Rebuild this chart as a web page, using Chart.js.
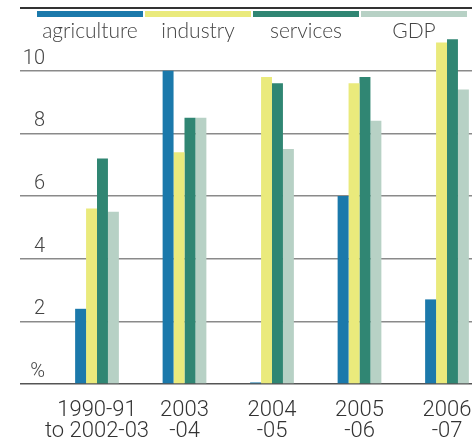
<!DOCTYPE html>
<html>
<head>
<meta charset="utf-8">
<script src="https://cdn.jsdelivr.net/npm/chart.js@4"></script>
<style>
  html, body { margin: 0; padding: 0; background: #fff; overflow: hidden; }
  #wrap { position: relative; width: 472px; height: 443px; }
  #legend { position: absolute; left: 37px; top: 11px; display: flex; gap: 2px; }
  .item { width: 106px; text-align: center; font-family: Lato, "Open Sans", sans-serif; font-weight: 300; font-size: 21px; line-height: 1; color: #444; }
  .strip { height: 6px; margin-bottom: 2px; }
</style>
</head>
<body>
<div id="wrap">
  <canvas id="c" width="472" height="443"></canvas>
  <div id="legend"></div>
</div>
<script>
const categories = [["1990-91", "to 2002-03"], ["2003", "-04"], ["2004", "-05"], ["2005", "-06"], ["2006", "-07"]];
const seriesNames = ["agriculture", "industry", "services", "GDP"];
const agriculture = [2.4, 10.0, 0.05, 6.0, 2.7];
const industry = [5.6, 7.4, 9.8, 9.6, 10.9];
const services = [7.2, 8.5, 9.6, 9.8, 11.0];
const gdp = [5.5, 8.5, 7.5, 8.4, 9.4];
const yTicks = [0, 2, 4, 6, 8, 10, 12];
const yTickLabels = ["%", "2", "4", "6", "8", "10", ""];
const colors = ["#1b79ab", "#eaea7c", "#308673", "#b7d1c5"];

const allSeries = [agriculture, industry, services, gdp];
const datasets = allSeries.map((vals, k) => ({
  label: seriesNames[k],
  data: vals.map((v, i) => ({ x: i, y: v })),
  backgroundColor: colors[k],
  borderWidth: 0,
  categoryPercentage: 0.5,
  barPercentage: 1.0
}));

const TICKFONT = "Roboto, 'Open Sans', sans-serif";

new Chart(document.getElementById("c"), {
  type: "bar",
  data: { datasets },
  options: {
    responsive: false,
    animation: false,
    layout: { padding: { left: 20, right: 0, top: 8, bottom: 0 } },
    plugins: { legend: { display: false }, tooltip: { enabled: false } },
    scales: {
      x: {
        type: "linear",
        offset: false,
        min: -0.5943,
        max: 4.2857,
        grid: { display: false, offset: false },
        border: { display: false },
        afterBuildTicks: (s) => { s.ticks = categories.map((c, i) => ({ value: i })); },
        afterFit: (s) => { s.height = 59; s.paddingLeft = 0; s.paddingRight = 0; },
        ticks: {
          autoSkip: false,
          maxRotation: 0,
          padding: 8,
          color: "#333",
          font: { family: TICKFONT, size: 22, weight: 300, lineHeight: 0.955 },
          callback: (v) => categories[v] || ""
        }
      },
      y: {
        min: 0,
        max: 12,
        afterBuildTicks: (s) => { s.ticks = yTicks.map(v => ({ value: v })); },
        afterFit: (s) => { s.width = 25; s.paddingTop = 0; s.paddingBottom = 0; },
        border: { display: false },
        grid: {
          drawTicks: true,
          tickLength: 25,
          color: (ctx) => ctx.tick && ctx.tick.value === 12 ? "#333" : (ctx.tick && ctx.tick.value === 0 ? "#555" : "#8a8a8a"),
          lineWidth: (ctx) => ctx.tick && ctx.tick.value === 12 ? 2 : 1.5
        },
        ticks: {
          crossAlign: "near",
          padding: -25,
          labelOffset: -12,
          color: "#444",
          font: { family: TICKFONT, size: 20, weight: 300 },
          callback: (v) => yTickLabels[yTicks.indexOf(v)]
        }
      }
    }
  }
});

const legend = document.getElementById("legend");
seriesNames.forEach((n, k) => {
  const d = document.createElement("div");
  d.className = "item";
  const s = document.createElement("div");
  s.className = "strip";
  s.style.background = colors[k];
  const t = document.createElement("div");
  t.textContent = n;
  d.appendChild(s); d.appendChild(t);
  legend.appendChild(d);
});
</script>
</body>
</html>
